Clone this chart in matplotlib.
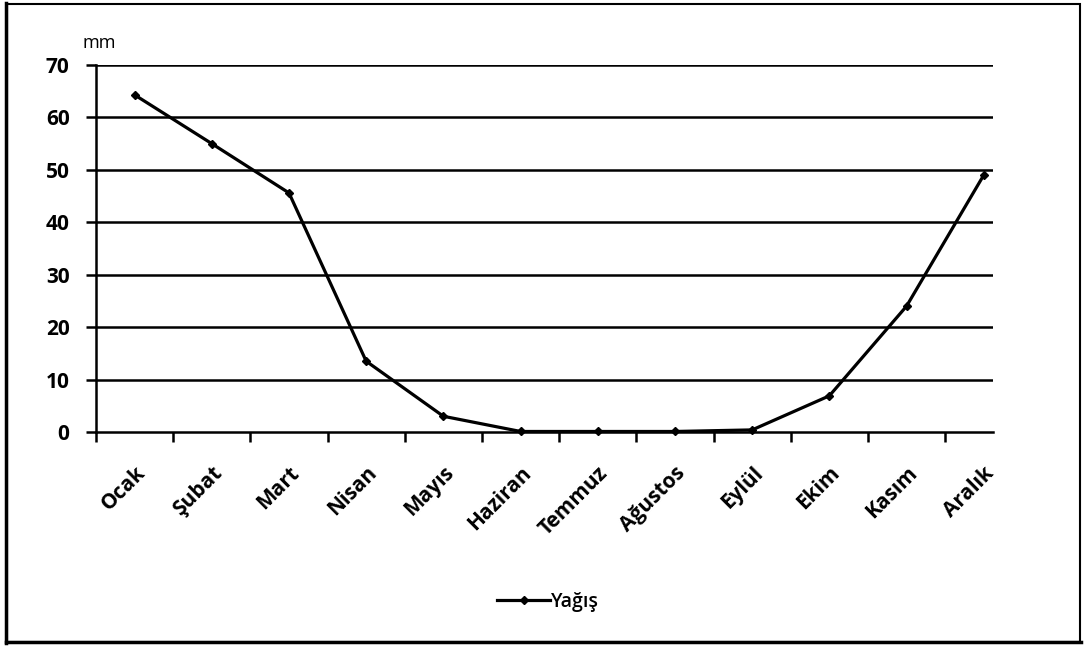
import matplotlib
matplotlib.use("Agg")
import matplotlib.pyplot as plt
from matplotlib.patches import Rectangle
from matplotlib.lines import Line2D

months = ["Ocak", "Şubat", "Mart", "Nisan", "Mayıs", "Haziran", "Temmuz",
          "Ağustos", "Eylül", "Ekim", "Kasım", "Aralık"]
rain = [64.3, 55.0, 45.6, 13.5, 3.0, 0.1, 0.1, 0.1, 0.4, 6.9, 24.0, 49.0]
yticks = [0, 10, 20, 30, 40, 50, 60, 70]

plt.rcParams['font.family'] = ['Open Sans', 'DejaVu Sans']

W, H = 1085, 648
fig = plt.figure(figsize=(W / 100, H / 100), dpi=100)
ax = fig.add_axes([96 / W, 1 - 432 / H, (993 - 96) / W, (432 - 65) / H])

x = list(range(len(months)))
ax.plot(x, rain, color='black', lw=2.3, marker='D', ms=4.5, zorder=3,
        label='Yağış', clip_on=False)

ax.set_ylim(0, 70)
ax.set_yticks(yticks)
ax.set_yticklabels([str(v) for v in yticks], fontsize=15, fontweight='bold')
ax.set_xlim(-0.5, 11.12)
ax.set_xticks([i - 0.5 for i in range(12)])
ax.set_xticklabels([])
ax.set_xticks(x, minor=True)
ax.set_xticklabels(months, minor=True, rotation=45, ha='right', va='top',
                   rotation_mode='anchor', fontsize=15, fontweight='bold')
ax.tick_params(axis='x', which='minor', length=0, pad=22)
ax.tick_params(axis='x', which='major', length=7, width=1.8, direction='out')
ax.tick_params(axis='y', length=7, width=1.8, direction='out', pad=12)

for v in yticks[1:]:
    ax.axhline(v, color='black', lw=1.8, zorder=1)
for s in ['top', 'right']:
    ax.spines[s].set_visible(False)
ax.spines['left'].set_linewidth(1.8)
ax.spines['bottom'].set_linewidth(1.8)

fig.text(82 / W, 1 - 43 / H, 'mm', fontsize=13, ha='left', va='center')

h = Line2D([], [], color='black', lw=2.3, marker='D', ms=4.5)
fig.legend([h], ['Yağış'], loc='center', bbox_to_anchor=(548 / W, 1 - 602 / H),
           frameon=False, handlelength=2.7, handletextpad=0.05,
           prop={'weight': 'semibold', 'size': 14})

# figure border
fig.add_artist(Rectangle((7 / W, 1 - 642 / H), (1080 - 7) / W, (642 - 4) / H,
                         transform=fig.transFigure, fill=False, ec='black', lw=1.5))
fig.add_artist(Line2D([6 / W, 6 / W], [1 - 643 / H, 1 - 3 / H], transform=fig.transFigure,
                      color='black', lw=2.5))
fig.add_artist(Line2D([6 / W, 1081 / W], [1 - 642 / H, 1 - 642 / H], transform=fig.transFigure,
                      color='black', lw=2.5))

fig.savefig('out.png', dpi=100)
